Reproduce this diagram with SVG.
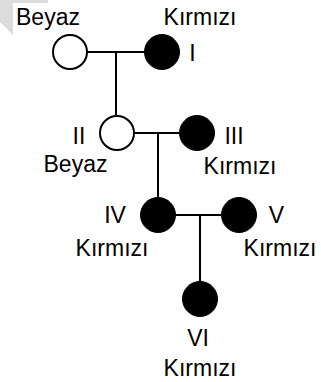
<svg xmlns="http://www.w3.org/2000/svg" width="321" height="382" viewBox="0 0 321 382">
<style>
.t{font-family:"Liberation Sans",Arial,sans-serif;font-size:23px;fill:#000;text-anchor:middle}
.w{fill:#fff;stroke:#000;stroke-width:2}
.r{fill:#000;stroke:#000;stroke-width:1}
.l{stroke:#000;stroke-width:2;fill:none}
</style>
<rect width="321" height="382" fill="#fff"/>
<polygon points="0,0 48,0 48,3 13,3 13,35 0,22" fill="#dcdcdc"/>
<g id="connectors">
<path class="l" d="M87,52 H145 M116,52 V116"/>
<path class="l" d="M135,133 H180 M158,133 V197"/>
<path class="l" d="M176,215 H221 M200,215 V281"/>
</g>
<g id="n-beyaz1"><circle class="w" cx="70" cy="52" r="17"/><text class="t" x="48" y="25">Beyaz</text></g>
<g id="n-I"><circle class="r" cx="162" cy="52" r="17.5"/><text class="t" x="200" y="25">Kırmızı</text><text class="t" x="192.5" y="61">I</text></g>
<g id="n-II"><circle class="w" cx="117" cy="133" r="17"/><text class="t" x="79" y="144">II</text><text class="t" x="75.5" y="171.5">Beyaz</text></g>
<g id="n-III"><circle class="r" cx="197" cy="133" r="17.5"/><text class="t" x="234" y="144">III</text><text class="t" x="240" y="174">Kırmızı</text></g>
<g id="n-IV"><circle class="r" cx="158" cy="215" r="17.5"/><text class="t" x="115" y="223">IV</text><text class="t" x="112" y="256">Kırmızı</text></g>
<g id="n-V"><circle class="r" cx="239" cy="215" r="17.5"/><text class="t" x="276.5" y="223">V</text><text class="t" x="280" y="256">Kırmızı</text></g>
<g id="n-VI"><circle class="r" cx="200" cy="299" r="17.5"/><text class="t" x="198" y="346">VI</text><text class="t" x="200" y="376">Kırmızı</text></g>
</svg>
